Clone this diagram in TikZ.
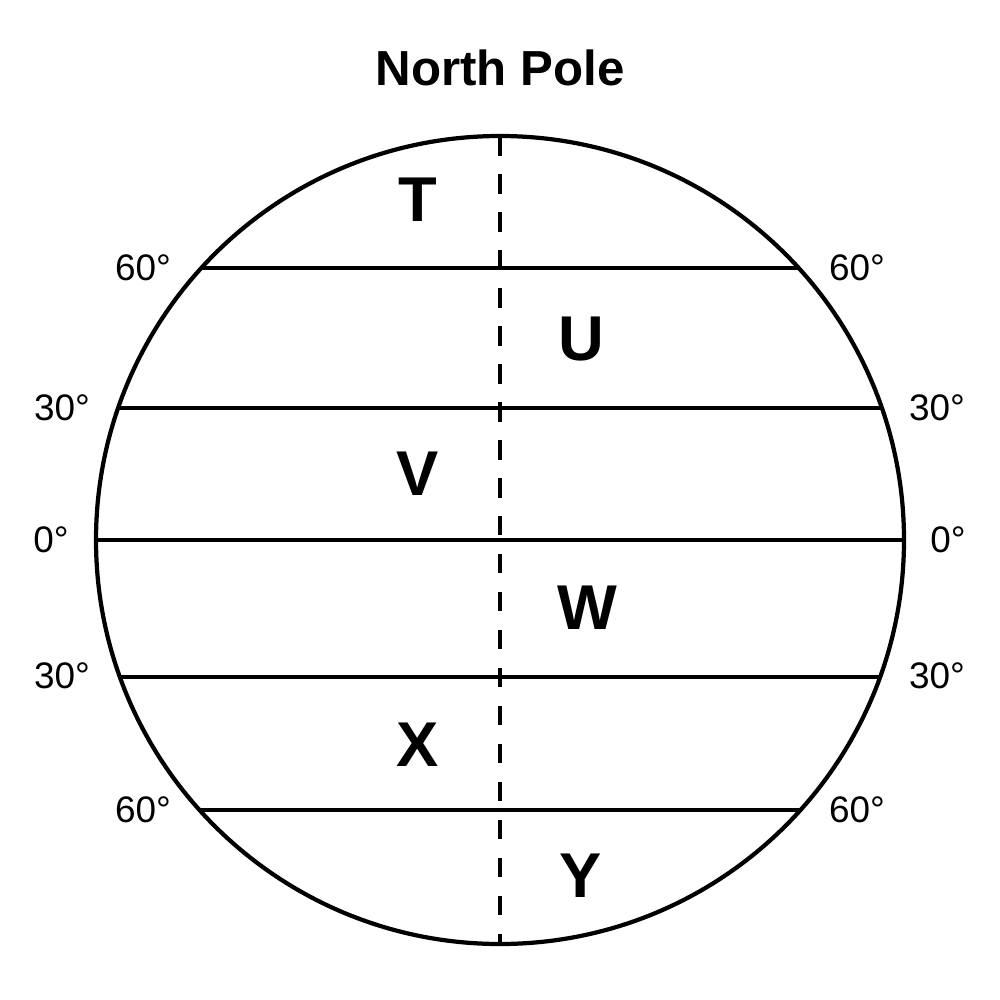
\documentclass[tikz,border=0pt]{standalone}
\usepackage{fontspec}
\setmainfont{Liberation Sans}
\begin{document}
\begin{tikzpicture}[x=0.01cm,y=-0.01cm,
  ln/.style={line width=1.2pt,black},
  axis/.style={line width=1.1pt,black,dash pattern=on 5.6pt off 5.2pt},
  deg/.style={font=\fontsize{10.5}{12}\selectfont,inner sep=0pt},
  zone/.style={font=\fontsize{18}{20}\bfseries\selectfont,inner sep=0pt},
  ttl/.style={font=\fontsize{14}{16}\bfseries\selectfont,inner sep=0pt}]
\useasboundingbox (0,0) rectangle (1000,1000);
\coordinate (c) at (500,540);
\node[ttl] (title) at (500,68) {North Pole};
% latitude lines
\coordinate (l60n) at (201.3,268); \coordinate (r60n) at (798.7,268);
\coordinate (l30n) at (118.2,408); \coordinate (r30n) at (881.8,408);
\coordinate (l0) at (96,540); \coordinate (r0) at (904,540);
\coordinate (l30s) at (120,677); \coordinate (r30s) at (880,677);
\coordinate (l60s) at (199.5,810); \coordinate (r60s) at (800.5,810);
\coordinate (np) at (500,136); \coordinate (sp) at (500,944);
\draw[axis] (np) -- (sp);
\draw[ln] (l60n) -- (r60n);
\draw[ln] (l30n) -- (r30n);
\draw[ln] (l0) -- (r0);
\draw[ln] (l30s) -- (r30s);
\draw[ln] (l60s) -- (r60s);
\draw[ln] (c) circle[radius=404];
% degree labels
\node[deg] (a1) at (143,268) {60°};
\node[deg] (a2) at (857,268) {60°};
\node[deg] (a3) at (62,408) {30°};
\node[deg] (a4) at (937,408) {30°};
\node[deg] (a5) at (51,540) {0°};
\node[deg] (a6) at (948,540) {0°};
\node[deg] (a7) at (62,676) {30°};
\node[deg] (a8) at (937,676) {30°};
\node[deg] (a9) at (143,810) {60°};
\node[deg] (a10) at (857,810) {60°};
% zone letters
\node[zone] (T) at (418,200) {T};
\node[zone] (U) at (581,339) {U};
\node[zone] (V) at (418,474) {V};
\node[zone] (W) at (587,608) {W};
\node[zone] (X) at (418,745) {X};
\node[zone] (Y) at (581,876) {Y};
\end{tikzpicture}
\end{document}
